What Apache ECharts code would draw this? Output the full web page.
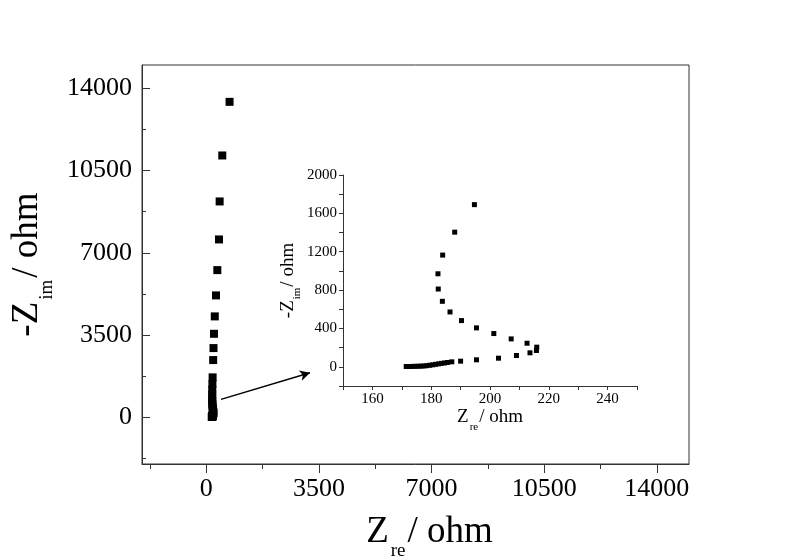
<!DOCTYPE html>
<html>
<head>
<meta charset="utf-8">
<script src="https://cdn.jsdelivr.net/npm/echarts@6/dist/echarts.min.js"></script>
<style>
  html, body { margin: 0; padding: 0; background: #fff; }
  #chart { width: 800px; height: 558px; }
</style>
</head>
<body>
<div id="chart"></div>
<script>
// low-Zim part of the spectrum (also shown in the inset)
const zreInset = [171.5, 172.5, 173.5, 174.5, 175.5, 176.5, 177.5, 178.5, 179.5, 180.5,
  181.5, 182.5, 183.5, 184.5, 185.5, 187, 190, 195.4, 202.9, 209,
  213.6, 215.8, 215.9, 212.6, 207.2, 201.3, 195.4, 190.3, 186.4, 183.8,
  182.4, 182.3, 183.9, 188, 194.7];
const zimInset = [3, 3, 4, 5, 6, 7, 9, 12, 16, 21,
  26, 31, 36, 40, 45, 52, 59, 73, 90, 118,
  146, 170, 205, 246, 291, 347, 406, 482, 572, 683,
  811, 970, 1165, 1404, 1691];
// low-frequency tail, only in the main plot
const zreHigh = [212, 222, 238, 262, 300, 341, 393, 413, 495, 722];
const zimHigh = [2428, 2939, 3548, 4289, 5183, 6261, 7568, 9186, 11145, 13430];

const mainTicks = [0, 3500, 7000, 10500, 14000];
const mainMinorTicks = [-1750, 1750, 5250, 8750, 12250];
const insetXLabels = [160, 180, 200, 220, 240];
const insetYLabels = [0, 400, 800, 1200, 1600, 2000];

// arrow from the cluster to the inset, in main-plot data units
const arrowFrom = [455, 754];
const arrowTo = [3221, 1887];

const allPoints = zreInset.map((x, i) => [x, zimInset[i]])
  .concat(zreHigh.map((x, i) => [x, zimHigh[i]]));

const font = 'Liberation Serif, Times New Roman, serif';
const axisColor = '#333';
const plain = v => String(v);

const chart = echarts.init(document.getElementById('chart'));

const richBig = {
  a: { fontFamily: font, fontSize: 37, lineHeight: 37, color: '#000', verticalAlign: 'top' },
  s: { fontFamily: font, fontSize: 19, lineHeight: 19, color: '#000', verticalAlign: 'top', padding: [28, 2, 0, 2] }
};
const richSmall = {
  a: { fontFamily: font, fontSize: 19, lineHeight: 19, color: '#000', verticalAlign: 'top' },
  s: { fontFamily: font, fontSize: 11, lineHeight: 11, color: '#000', verticalAlign: 'top', padding: [14, 1, 0, 1] }
};

const mainLine = { show: true, onZero: false, lineStyle: { color: axisColor, width: 1 } };
const hiddenLine = { show: false, onZero: false };

chart.setOption({
  animation: false,
  grid: [
    { left: 142, right: 111, top: 65, bottom: 94, show: true, borderColor: axisColor, borderWidth: 1, outerBoundsMode: 'none', containLabel: false },
    { left: 343, right: 163, top: 175, bottom: 172, outerBoundsMode: 'none', containLabel: false }
  ],
  xAxis: [
    {
      gridIndex: 0, type: 'value', min: -2000, max: 15000,
      axisLine: mainLine,
      axisTick: { show: true, inside: false, length: 9, customValues: mainTicks, lineStyle: { color: axisColor } },
      axisLabel: { customValues: mainTicks, formatter: plain, fontFamily: font, fontSize: 26, color: '#000', margin: 12 },
      splitLine: { show: false },
      name: '{a|Z}{s|re}{a|/ ohm}', nameLocation: 'middle', nameGap: 50,
      nameTextStyle: { rich: richBig, padding: [0, 0, 0, 28] }
    },
    {
      gridIndex: 0, type: 'value', min: -2000, max: 15000, position: 'bottom',
      axisLine: hiddenLine,
      axisTick: { show: true, inside: false, length: 5, customValues: mainMinorTicks, lineStyle: { color: axisColor } },
      axisLabel: { show: false },
      splitLine: { show: false }
    },
    {
      gridIndex: 1, type: 'value', min: 150, max: 250, interval: 10,
      axisLine: { show: true, onZero: false, lineStyle: { color: axisColor, width: 1 } },
      axisTick: { show: true, inside: false, length: 4, lineStyle: { color: axisColor } },
      axisLabel: { customValues: insetXLabels, formatter: plain, fontFamily: font, fontSize: 15, color: '#000', margin: 6 },
      splitLine: { show: false },
      name: '{a|Z}{s|re}{a|/ ohm}', nameLocation: 'middle', nameGap: 22,
      nameTextStyle: { rich: richSmall }
    }
  ],
  yAxis: [
    {
      gridIndex: 0, type: 'value', min: -2000, max: 15000,
      axisLine: mainLine,
      axisTick: { show: true, inside: true, length: 8, customValues: mainTicks, lineStyle: { color: axisColor } },
      axisLabel: { customValues: mainTicks, formatter: plain, fontFamily: font, fontSize: 26, color: '#000', margin: 10 },
      splitLine: { show: false },
      name: '{a|-Z}{s|im}{a|/ ohm}', nameLocation: 'middle', nameGap: 56,
      nameTextStyle: { rich: richBig }
    },
    {
      gridIndex: 0, type: 'value', min: -2000, max: 15000, position: 'left',
      axisLine: hiddenLine,
      axisTick: { show: true, inside: true, length: 4, customValues: mainMinorTicks, lineStyle: { color: axisColor } },
      axisLabel: { show: false },
      splitLine: { show: false }
    },
    {
      gridIndex: 1, type: 'value', min: -200, max: 2000, interval: 200,
      axisLine: { show: true, onZero: false, lineStyle: { color: axisColor, width: 1 } },
      axisTick: { show: true, inside: false, length: 4, lineStyle: { color: axisColor } },
      axisLabel: { customValues: insetYLabels, formatter: plain, fontFamily: font, fontSize: 15, color: '#000', margin: 6 },
      splitLine: { show: false },
      name: '{a|-Z}{s|im}{a|/ ohm}', nameLocation: 'middle', nameGap: 35,
      nameTextStyle: { rich: richSmall }
    }
  ],
  series: [
    {
      type: 'scatter', xAxisIndex: 0, yAxisIndex: 0,
      data: allPoints,
      symbol: 'rect', symbolSize: 8,
      itemStyle: { color: '#000', opacity: 1 },
      markLine: {
        silent: true,
        symbol: ['none', 'arrow'],
        symbolSize: [8, 10],
        label: { show: false },
        lineStyle: { color: '#000', width: 1.5, type: 'solid' },
        data: [[{ coord: arrowFrom }, { coord: arrowTo }]]
      }
    },
    {
      type: 'scatter', xAxisIndex: 2, yAxisIndex: 2,
      data: allPoints,
      symbol: 'rect', symbolSize: 5,
      itemStyle: { color: '#000', opacity: 1 }
    }
  ]
});
</script>
</body>
</html>
